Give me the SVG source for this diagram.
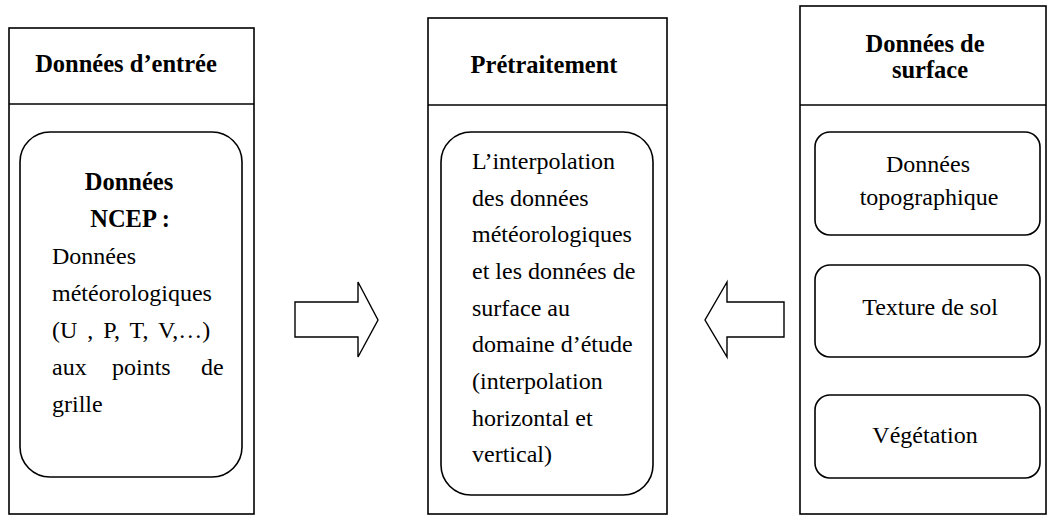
<svg xmlns="http://www.w3.org/2000/svg" width="1047" height="516" viewBox="0 0 1047 516">
<style>
.box{fill:#fff;stroke:#000;stroke-width:1.6}
.div{stroke:#000;stroke-width:1.6}
.in{fill:#fff;stroke:#000;stroke-width:1.6}
.arr{fill:#fff;stroke:#000;stroke-width:1.4;stroke-linejoin:miter}
text{font-family:"Liberation Serif","Times New Roman",serif;font-size:24px;fill:#000}
.b{font-weight:bold;font-size:24.5px}
.c{text-anchor:middle}
</style>
<rect width="1047" height="516" fill="#fff"/>
<g id="entree">
<rect class="box" x="9" y="28" width="245" height="486"/>
<line class="div" x1="9" y1="104" x2="254" y2="104"/>
<text class="b c" x="126" y="72">Données d’entrée</text>
<rect class="in" x="20" y="132" width="222" height="345" rx="30" ry="30"/>
<text class="b c" x="129" y="190">Données</text>
<text class="b c" x="130" y="227">NCEP :</text>
<text x="52" y="264">Données</text>
<text x="52" y="301">météorologiques</text>
<text x="52" y="338" word-spacing="4">(U , P, T, V,…)</text>
<text y="375"><tspan x="52">aux</tspan><tspan x="112">points</tspan><tspan x="201">de</tspan></text>
<text x="52" y="412">grille</text>
</g>
<g id="pretraitement">
<rect class="box" x="428" y="18" width="239" height="496"/>
<line class="div" x1="428" y1="105" x2="667" y2="105"/>
<text class="b c" x="544" y="73">Prétraitement</text>
<rect class="in" x="441" y="132" width="212" height="363" rx="30" ry="30"/>
<text x="472" y="169">L’interpolation</text>
<text x="472" y="206">des données</text>
<text x="472" y="242">météorologiques</text>
<text x="472" y="279">et les données de</text>
<text x="472" y="316">surface au</text>
<text x="472" y="352">domaine d’étude</text>
<text x="472" y="389">(interpolation</text>
<text x="472" y="426">horizontal et</text>
<text x="472" y="462">vertical)</text>
</g>
<g id="surface">
<rect class="box" x="800" y="6" width="246" height="508"/>
<line class="div" x1="800" y1="105" x2="1046" y2="105"/>
<text class="b c" x="925" y="52">Données de</text>
<text class="b c" x="930" y="78">surface</text>
<g id="topo">
<rect class="in" x="815" y="132" width="225" height="103" rx="15" ry="15"/>
<text class="c" x="928" y="172">Données</text>
<text class="c" x="929" y="205">topographique</text>
</g>
<g id="texture">
<rect class="in" x="815" y="265" width="225" height="92" rx="15" ry="15"/>
<text class="c" x="930" y="315">Texture de sol</text>
</g>
<g id="vegetation">
<rect class="in" x="815" y="395" width="225" height="83" rx="15" ry="15"/>
<text class="c" x="925" y="443">Végétation</text>
</g>
</g>
<g id="connectors">
<polygon class="arr" points="295,302 358,302 358,282 378,320 358,357 358,337 295,337"/>
<polygon class="arr" points="784,302 727,302 727,282 705,320 727,357 727,337 784,337"/>
</g>
</svg>
